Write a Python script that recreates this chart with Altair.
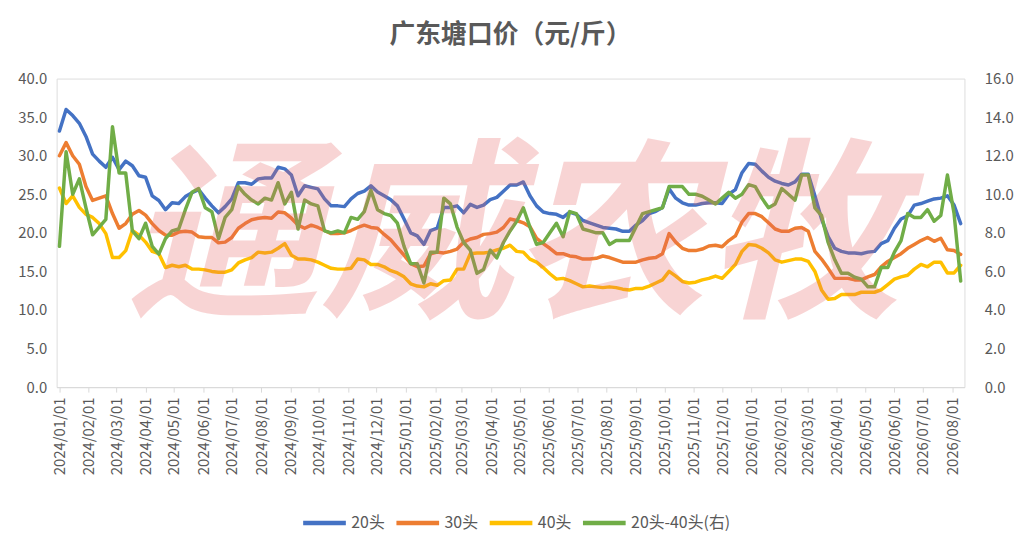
import altair as alt
import pandas as pd

# ---------------- data (weekly, from 2024-01-01) ----------------
start_date = "2024-01-01"

s20 = [33.2, 36.0, 35.2, 34.2, 32.5, 30.2, 29.3, 28.5, 29.8, 28.2,
       29.3, 28.7, 27.4, 27.2, 24.8, 24.2, 23.0, 23.9, 23.8, 24.7,
       25.2, 25.6, 24.5, 23.5, 22.6, 23.4, 24.4, 26.5, 26.5, 26.3,
       27.0, 27.1, 27.1, 28.5, 28.3, 27.5, 24.8, 26.1, 25.9, 25.7,
       24.4, 23.5, 23.5, 23.4, 24.4, 25.1, 25.4, 26.1, 25.3, 24.8,
       24.3, 23.5, 21.8, 20.0, 19.6, 18.5, 20.3, 20.6, 23.3, 23.3,
       23.5, 22.6, 23.7, 23.3, 23.6, 24.3, 24.6, 25.4, 26.2, 26.2,
       26.6, 24.8, 23.5, 22.7, 22.5, 22.4, 22.0, 22.7, 22.4, 21.6,
       21.3, 21.0, 20.7, 20.6, 20.5, 20.2, 20.2, 21.0, 21.6, 22.5,
       22.8, 23.3, 25.7, 24.5, 23.9, 23.6, 23.6, 23.8, 23.9, 23.9,
       23.8, 25.0, 25.6, 27.8, 29.0, 28.9, 28.0, 27.2, 26.7, 26.4,
       26.2, 26.6, 27.6, 27.6, 24.8, 21.8, 19.5, 18.0, 17.6, 17.4,
       17.4, 17.3, 17.5, 17.6, 18.6, 19.0, 20.6, 21.8, 22.2, 23.6,
       23.8, 24.1, 24.4, 24.5, 24.8, 23.6, 21.2]

s30 = [30.0, 31.7, 30.0, 28.9, 26.0, 24.2, 24.5, 24.8, 22.5, 20.6,
       21.2, 22.4, 22.9, 22.3, 21.2, 20.3, 19.7, 19.7, 20.1, 20.2,
       20.1, 19.5, 19.4, 19.4, 18.7, 18.8, 19.4, 20.6, 21.2, 21.7,
       21.9, 22.0, 21.9, 22.7, 22.6, 21.9, 21.0, 20.6, 21.0, 20.7,
       20.3, 19.9, 19.9, 20.0, 20.3, 20.7, 21.0, 20.7, 20.6, 19.8,
       19.1, 18.1, 17.1, 16.0, 15.6, 15.7, 17.3, 17.5, 17.4, 17.6,
       17.9, 18.8, 19.2, 19.4, 19.8, 19.9, 20.1, 20.7, 21.8, 21.6,
       21.3, 20.8, 19.3, 18.6, 18.0, 17.3, 17.3, 17.0, 16.9, 16.6,
       16.6, 16.7, 17.0, 16.8, 16.5, 16.2, 16.2, 16.2, 16.5, 16.7,
       16.8, 17.3, 19.9, 18.8, 18.0, 17.7, 17.7, 17.9, 18.3, 18.4,
       18.2, 19.0, 19.6, 21.4, 22.5, 22.5, 22.1, 21.3, 20.5, 20.2,
       20.2, 20.6, 20.7, 20.2, 17.6, 16.6, 15.4, 14.1, 14.1, 14.1,
       13.9, 13.9, 14.3, 14.6, 15.6, 16.3, 16.8, 17.3, 18.0, 18.5,
       19.0, 19.4, 18.9, 19.3, 17.8, 17.7, 17.2]

s40 = [25.8, 23.8, 24.8, 23.3, 22.4, 22.0, 21.2, 19.9, 16.8, 16.8,
       17.7, 20.3, 19.7, 18.8, 17.6, 17.3, 15.5, 15.8, 15.6, 15.8,
       15.3, 15.3, 15.2, 15.0, 14.9, 14.9, 15.2, 16.1, 16.5, 16.8,
       17.5, 17.4, 17.5, 18.0, 18.6, 17.1, 16.6, 16.6, 16.5, 16.2,
       15.8, 15.4, 15.3, 15.3, 15.4, 16.6, 16.5, 15.9, 15.9, 15.6,
       15.1, 14.8, 14.3, 13.4, 13.1, 13.0, 13.4, 13.2, 13.8, 13.9,
       15.3, 15.3, 17.3, 17.4, 17.4, 17.5, 17.8, 18.0, 18.4, 17.6,
       17.5, 16.6, 16.2, 15.5, 14.7, 14.0, 14.1, 13.8, 13.4, 13.0,
       13.1, 13.0, 12.9, 13.0, 12.9, 12.7, 12.6, 12.8, 12.8, 13.1,
       13.5, 13.9, 15.0, 14.4, 13.7, 13.5, 13.6, 13.9, 14.1, 14.4,
       14.1, 15.0, 15.9, 17.6, 18.5, 18.4, 18.0, 17.4, 16.5, 16.2,
       16.4, 16.6, 16.6, 16.3, 15.0, 12.6, 11.4, 11.5, 12.0, 12.0,
       12.0, 12.3, 12.3, 12.3, 12.6, 13.3, 14.0, 14.3, 14.5, 15.3,
       15.9, 15.6, 16.2, 16.2, 14.8, 14.8, 15.8]

s_diff = [7.3, 12.2, 10.0, 10.8, 9.3, 7.9, 8.3, 8.7, 13.5, 11.1,
          11.1, 8.1, 7.7, 8.5, 7.3, 6.9, 7.7, 8.1, 8.2, 9.2,
          10.1, 10.3, 9.3, 9.1, 7.7, 8.8, 9.2, 10.4, 10.0, 9.7,
          9.5, 9.8, 9.7, 10.6, 9.5, 10.1, 8.2, 9.7, 9.5, 9.4,
          8.1, 8.0, 8.1, 8.0, 8.8, 8.7, 9.1, 10.2, 9.2, 9.0,
          8.9, 8.5, 7.3, 6.4, 6.4, 5.4, 7.0, 7.0, 9.8, 9.5,
          8.3, 7.5, 7.1, 5.9, 6.1, 7.1, 6.7, 7.5, 8.1, 8.6,
          9.3, 8.3, 7.4, 7.5, 8.0, 8.5, 7.8, 9.1, 9.0, 8.2,
          8.1, 8.0, 8.0, 7.4, 7.6, 7.6, 7.6, 8.3, 9.0, 9.1,
          9.2, 9.3, 10.4, 10.4, 10.4, 10.0, 10.0, 9.9, 9.7, 9.5,
          9.8, 10.1, 9.8, 10.0, 10.5, 10.4, 9.8, 9.3, 9.5, 10.3,
          10.0, 9.7, 11.0, 11.0, 9.3, 8.9, 7.5, 6.6, 5.9, 5.9,
          5.7, 5.6, 5.2, 5.2, 6.2, 6.2, 7.0, 7.6, 9.0, 8.8,
          8.8, 9.2, 8.6, 8.9, 11.0, 9.0, 5.5]

series_names = ["20头", "30头", "40头", "20头-40头(右)"]
series_colors = ["#4472C4", "#ED7D31", "#FFC000", "#70AD47"]

title_text = "广东塘口价（元/斤）"
watermark_text = ["通威农牧"]
watermark_date = ["2025-04-24"]
watermark_value = [18.6]

left_ticks = [0, 5, 10, 15, 20, 25, 30, 35, 40]
right_ticks = [0, 2, 4, 6, 8, 10, 12, 14, 16]

# ---------------- frames ----------------
n = len(s20)
dates = pd.date_range(start_date, periods=n, freq="7D")

left_df = pd.DataFrame({
    "date": list(dates) * 3,
    "value": s20 + s30 + s40,
    "series": [series_names[0]] * n + [series_names[1]] * n + [series_names[2]] * n,
})
right_df = pd.DataFrame({"date": dates, "value": s_diff, "series": series_names[3]})
wm_df = pd.DataFrame({"date": pd.to_datetime(watermark_date), "value": watermark_value,
                      "text": watermark_text})

month_ticks = [alt.DateTime(year=2024 + (i // 12), month=(i % 12) + 1, date=1) for i in range(32)]

FONT = "Noto Sans CJK SC"
GREY = "#595959"

x_enc = alt.X(
    "date:T",
    scale=alt.Scale(domain=[alt.DateTime(year=2023, month=12, date=29),
                            alt.DateTime(year=2026, month=8, date=14)]),
    axis=alt.Axis(values=month_ticks, format="%Y/%m/%d", labelAngle=-90, title=None,
                  grid=False, domainColor="#D9D9D9", tickColor="#D9D9D9", tickSize=5,
                  labelFontSize=15, labelColor=GREY, labelFont=FONT, labelPadding=5,
                  labelOverlap=False, labelFlush=False),
)

color_enc = alt.Color(
    "series:N",
    scale=alt.Scale(domain=series_names, range=series_colors),
    sort=series_names,
    legend=alt.Legend(
        title=None, orient="none", direction="horizontal", legendX=246, legendY=424,
        symbolType="stroke", symbolSize=1850, symbolStrokeWidth=4.5,
        labelFontSize=16, labelColor=GREY, labelFont=FONT, columnPadding=2,
        labelOffset=3, padding=0,
    ),
)

left = alt.Chart(left_df).mark_line(strokeWidth=3.5, strokeJoin="round", strokeCap="round").encode(
    x=x_enc,
    y=alt.Y("value:Q", scale=alt.Scale(domain=[0, 40]),
            axis=alt.Axis(values=left_ticks, format=".1f", title=None, grid=False, ticks=False,
                          domain=False, labelFontSize=15, labelColor=GREY, labelFont=FONT,
                          labelPadding=10)),
    color=color_enc,
)

right = alt.Chart(right_df).mark_line(strokeWidth=3.5, strokeJoin="round", strokeCap="round").encode(
    x=x_enc,
    y=alt.Y("value:Q", scale=alt.Scale(domain=[0, 16]),
            axis=alt.Axis(values=right_ticks, format=".1f", title=None, grid=False, ticks=False,
                          domain=False, orient="right", labelFontSize=15, labelColor=GREY,
                          labelFont=FONT, labelPadding=20)),
    color=color_enc,
)

watermark = alt.Chart(wm_df).mark_text(
    fontSize=195, font=FONT, fontWeight="bold", fontStyle="italic",
    color="#E86464", opacity=0.27, baseline="middle", align="center",
).encode(
    x=x_enc,
    y=alt.Y("value:Q", scale=alt.Scale(domain=[0, 40]), axis=None),
    text="text:N",
)

chart = (
    alt.layer(left, right, watermark)
    .resolve_scale(y="independent")
    .properties(
        width=915,
        height=311,
        title=alt.TitleParams(title_text, fontSize=26, font=FONT, fontWeight="bold",
                              color=GREY, anchor="middle", offset=24),
        autosize=alt.AutoSizeParams(type="none"),
        padding={"left": 49, "top": 69, "right": 60, "bottom": 160},
    )
    .configure_view(stroke=None)
    .configure(background="white")
)

chart.save("out.html", embed_options={"renderer": "svg", "actions": False})
